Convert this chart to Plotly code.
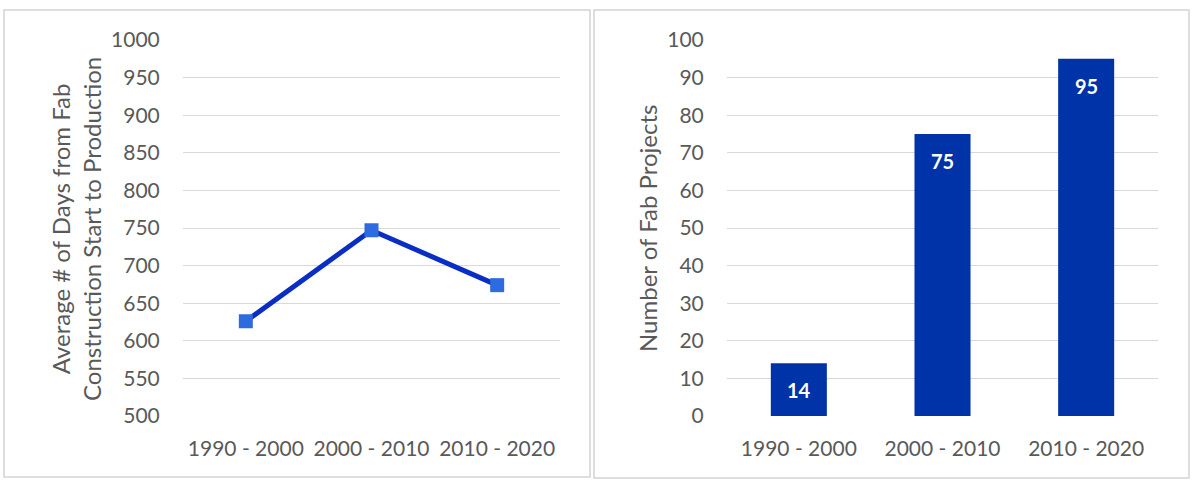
import plotly.graph_objects as go

categories = ["1990 - 2000", "2000 - 2010", "2010 - 2020"]
avg_days = [626, 747, 674]
fab_projects = [14, 75, 95]
left_ticks = list(range(500, 1001, 50))
right_ticks = list(range(0, 101, 10))

W, H = 1198, 486
FONT = "Lato"
TXT = "#595959"
GRID = "#d9d9d9"

def px(x):
    return x / W

def py(y):
    return 1 - y / H

fig = go.Figure()

fig.add_trace(go.Scatter(
    x=categories, y=avg_days, mode="lines+markers",
    line=dict(color="#0a2ec4", width=5),
    marker=dict(symbol="square", size=14, color="#2e6be0", line=dict(width=0)),
    xaxis="x", yaxis="y", showlegend=False, hoverinfo="skip",
))

fig.add_trace(go.Bar(
    x=categories, y=fab_projects,
    marker=dict(color="#0033a8", line=dict(width=0)),
    width=0.39,
    xaxis="x2", yaxis="y2", showlegend=False, hoverinfo="skip",
))

for c, v in zip(categories, fab_projects):
    fig.add_annotation(
        x=c, y=v, xref="x2", yref="y2", text=f"<b>{v}</b>",
        showarrow=False, yshift=-27,
        font=dict(family=FONT, size=20, color="white"),
    )

axis_common = dict(
    showline=False, zeroline=False, fixedrange=True, automargin=False,
    tickfont=dict(family=FONT, size=21, color=TXT),
)

fig.update_layout(
    template="none",
    width=W, height=H,
    margin=dict(l=0, r=0, t=0, b=0, pad=0),
    paper_bgcolor="white", plot_bgcolor="white",
    xaxis=dict(domain=[px(183), px(560)], anchor="y", type="category",
               range=[-0.5, 2.5],
               showgrid=False, ticks="outside", ticklen=14,
               tickcolor="rgba(0,0,0,0)", **axis_common),
    yaxis=dict(domain=[py(416), py(40)], anchor="x", range=[500, 1000],
               tickvals=left_ticks, showgrid=True, gridcolor=GRID, gridwidth=1,
               ticks="outside", ticklen=18, tickcolor="rgba(0,0,0,0)",
               **axis_common),
    xaxis2=dict(domain=[px(727), px(1158)], anchor="y2", type="category",
                range=[-0.5, 2.5],
                showgrid=False, ticks="outside", ticklen=14,
                tickcolor="rgba(0,0,0,0)", **axis_common),
    yaxis2=dict(domain=[py(416), py(40)], anchor="x2", range=[0, 100],
                tickvals=right_ticks, showgrid=True, gridcolor=GRID, gridwidth=1,
                ticks="outside", ticklen=18, tickcolor="rgba(0,0,0,0)",
                **axis_common),
    shapes=[
        dict(type="rect", xref="paper", yref="paper",
             x0=px(4), x1=px(590), y0=py(477), y1=py(10),
             line=dict(color="#d4d4d4", width=1.5), fillcolor="rgba(0,0,0,0)",
             layer="below"),
        dict(type="rect", xref="paper", yref="paper",
             x0=px(594), x1=px(1189), y0=py(478), y1=py(10),
             line=dict(color="#d4d4d4", width=1.5), fillcolor="rgba(0,0,0,0)",
             layer="below"),
    ],
)

fig.add_annotation(
    x=px(76), y=py(229), xref="paper", yref="paper",
    xanchor="center", yanchor="middle",
    text="Average # of Days from Fab<br>Construction Start to Production",
    textangle=-90, showarrow=False,
    font=dict(family=FONT, size=24, color=TXT),
)
fig.add_annotation(
    x=px(647), y=py(228), xref="paper", yref="paper",
    xanchor="center", yanchor="middle",
    text="Number of Fab Projects",
    textangle=-90, showarrow=False,
    font=dict(family=FONT, size=24, color=TXT),
)

fig.write_html(
    "out.html",
    config={"displayModeBar": False},
    post_script="document.body.style.margin='0';document.body.style.overflow='hidden';",
)
